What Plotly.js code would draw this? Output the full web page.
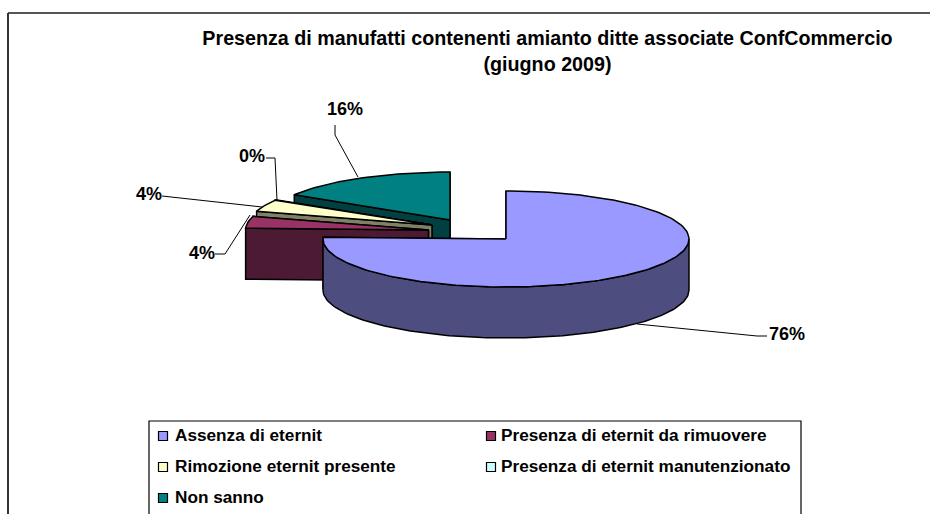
<!DOCTYPE html>
<html>
<head>
<meta charset="utf-8">
<script src="https://cdn.plot.ly/plotly-3.0.1.min.js"></script>
<style>html,body{margin:0;padding:0;background:#fff}#c{width:930px;height:514px}</style>
</head>
<body>
<div id="c"></div>
<script>
// Data
var categories = ['Assenza di eternit','Presenza di eternit da rimuovere','Rimozione eternit presente','Presenza di eternit manutenzionato','Non sanno'];
var values = [75.6, 4, 4, 0.2, 16.2];
var topColors = ['#9999ff','#993366','#ffffcc','#ccffff','#008080'];
var sideColors = ['#4d4d80','#4d1a33','#808066','#668080','#004040'];
var titleText = 'Presenza di manufatti contenenti amianto ditte associate ConfCommercio<br>(giugno 2009)';

// Projection of the exploded 3D pie
var centerX = [506, 428.5, 432, 432, 450];
var centerY = [239, 230, 225, 225, 220];
var radiusX = 183, radiusY = 48, depth = 51;

// Layout helpers
var labelX = [787, 202, 149, 252, 345];
var labelY = [335, 254, 195, 157, 110];
var leaderX = [[767,757,637],[215,225,250],[162,262],[266,275,277],[335,335,358]];
var leaderY = [[336,336,324],[254,254,215],[196,207],[158,158,200],[125,135,177]];
var legendMarkerX = [163,491,163,491,163];
var legendRowY = [436,436,467,467,498];
var legendTextY = [437,437,468,468,499];
var legendTextX = [175,501,175,501,175];
var FONT = 'Liberation Sans, Arial, sans-serif';

function rim(i, deg, drop) {
  var t = deg * Math.PI / 180;
  return [centerX[i] + radiusX * Math.sin(t), centerY[i] - radiusY * Math.cos(t) + (drop || 0)];
}
function poly(pts, fill) {
  pts = pts.concat([pts[0]]);
  return {x: pts.map(function(p){return p[0];}), y: pts.map(function(p){return p[1];}),
    type:'scatter', mode:'lines', fill:'toself', fillcolor:fill,
    line:{color:'#000', width:1.5, shape:'linear'}, hoverinfo:'skip', showlegend:false};
}
function arc(i, a, b, drop) {
  var out = [], n = Math.max(2, Math.ceil(Math.abs(b-a)/1.5));
  for (var k = 0; k <= n; k++) out.push(rim(i, a + (b-a)*k/n, drop));
  return out;
}

var total = values.reduce(function(s,v){return s+v;}, 0);
var starts = [], acc = 0;
values.forEach(function(v){ starts.push(acc); acc += v/total*360; });

var traces = [];
// painter's order: back slices first, main slice last
[4,3,2,1,0].forEach(function(i){
  var a = starts[i], b = a + values[i]/total*360;
  var cx = centerX[i], cy = centerY[i];
  [b, a].forEach(function(ang){
    var r = rim(i, ang), r2 = rim(i, ang, depth);
    traces.push(poly([[cx,cy], r, r2, [cx,cy+depth]], sideColors[i]));
  });
  var fa = Math.max(a, 90), fb = Math.min(b, 270);
  if (fb > fa) {
    var top = arc(i, fa, fb), bottom = arc(i, fb, fa, depth);
    traces.push(poly(top.concat(bottom), sideColors[i]));
  }
  traces.push(poly([[cx,cy]].concat(arc(i, a, b)), topColors[i]));
});

// leader lines
leaderX.forEach(function(xs, i){
  traces.push({x:xs, y:leaderY[i], type:'scatter', mode:'lines', line:{color:'#000', width:1},
    hoverinfo:'skip', showlegend:false});
});
// percentage labels
traces.push({x:labelX, y:labelY, type:'scatter', mode:'text',
  text: values.map(function(v){return Math.round(v/total*100)+'%';}),
  textposition:'middle center', textfont:{family:FONT, size:18, color:'#000', weight:700},
  hoverinfo:'skip', showlegend:false});
// legend markers + text
traces.push({x:legendMarkerX, y:legendRowY, type:'scatter', mode:'markers',
  marker:{symbol:'square', size:9, color:topColors, line:{color:'#000', width:1.2}},
  hoverinfo:'skip', showlegend:false});
traces.push({x:legendTextX, y:legendTextY, type:'scatter', mode:'text', text:categories,
  textposition:'middle right', textfont:{family:FONT, size:17.2, color:'#000', weight:700},
  hoverinfo:'skip', showlegend:false});

var axis = {visible:false, showgrid:false, zeroline:false, fixedrange:true};
var layout = {
  width:930, height:514, margin:{l:0,r:0,t:0,b:0},
  paper_bgcolor:'#fff', plot_bgcolor:'#fff', showlegend:false,
  xaxis:Object.assign({range:[0,930]}, axis),
  yaxis:Object.assign({range:[514,0]}, axis),
  title:{text:titleText, x:547.5/930, xref:'paper', xanchor:'center', y:1-45/514, yref:'paper', yanchor:'middle',
    font:{family:FONT, size:19.7, color:'#000', weight:700}},
  shapes:[
    {type:'line', xref:'x', yref:'y', x0:8, x1:930, y0:13, y1:13, line:{color:'#555', width:2}},
    {type:'line', xref:'x', yref:'y', x0:8, x1:8, y0:13, y1:514, line:{color:'#333', width:2}},
    {type:'rect', xref:'x', yref:'y', x0:149, x1:801, y0:421, y1:520, line:{color:'#000', width:1.2}, fillcolor:'rgba(0,0,0,0)'}
  ]
};
Plotly.newPlot('c', traces, layout, {displayModeBar:false, staticPlot:true});
</script>
</body>
</html>
